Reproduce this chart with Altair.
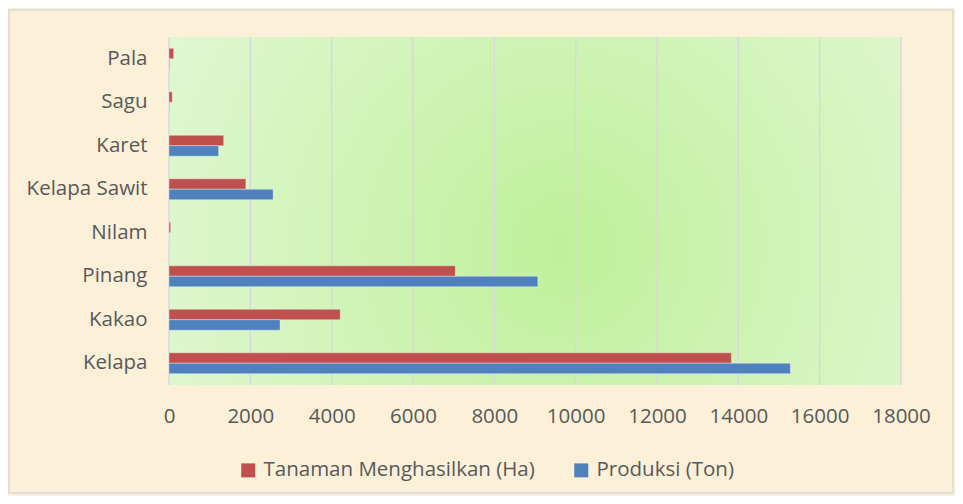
import altair as alt
import pandas as pd

categories = ["Pala", "Sagu", "Karet", "Kelapa Sawit", "Nilam", "Pinang", "Kakao", "Kelapa"]
tanaman_ha = [115, 80, 1345, 1890, 40, 7040, 4210, 13830]
produksi_ton = [15, 10, 1220, 2560, 5, 9070, 2730, 15280]
series = ["Tanaman Menghasilkan (Ha)", "Produksi (Ton)"]
x_ticks = [0, 2000, 4000, 6000, 8000, 10000, 12000, 14000, 16000, 18000]

rows = []
for c, a, b in zip(categories, tanaman_ha, produksi_ton):
    rows.append({"Kategori": c, "Seri": series[0], "Nilai": a})
    rows.append({"Kategori": c, "Seri": series[1], "Nilai": b})
df = pd.DataFrame(rows)
ticks_df = pd.DataFrame({"t": x_ticks})

W, H = 732, 348
FONT = "Open Sans"
FS = 20.5
TXT = "#595959"

xscale = alt.Scale(domain=[0, 18000], nice=False, zero=True)

frame = alt.Chart(alt.Data(values=[{}])).mark_rect(
    fill=None, stroke="#d9d9d9", strokeWidth=1.5
).encode(
    x=alt.value(-160), x2=alt.value(W + 52), y=alt.value(-27), y2=alt.value(H + 108)
)

bg = alt.Chart(alt.Data(values=[{}])).mark_rect(
    color=alt.RadialGradient(
        gradient="radial",
        x1=0.54, y1=0.55, r1=0.0,
        x2=0.54, y2=0.55, r2=0.75,
        stops=[
            alt.GradientStop(offset=0, color="#bff09a"),
            alt.GradientStop(offset=1, color="#e8f9e0"),
        ],
    )
).encode(x=alt.value(0), x2=alt.value(W), y=alt.value(0), y2=alt.value(H))

grid = alt.Chart(ticks_df).mark_rule(color="#d9d9d9", strokeWidth=1.5).encode(
    x=alt.X("t:Q", scale=xscale,
            axis=alt.Axis(values=x_ticks, format="d", grid=False, domain=False, ticks=False,
                          labelPadding=21, labelFontSize=FS, labelFont=FONT,
                          labelColor=TXT, title=None, labelFlush=False)),
    y=alt.value(0), y2=alt.value(H),
)

bars = alt.Chart(df).mark_bar(stroke="white", strokeOpacity=0.35, strokeWidth=1).encode(
    x=alt.X("Nilai:Q", scale=xscale),
    y=alt.Y("Kategori:N", sort=categories,
            scale=alt.Scale(paddingInner=0.52, paddingOuter=0.26),
            axis=alt.Axis(domain=False, ticks=False, labelPadding=22, labelFontSize=FS,
                          labelFont=FONT, labelColor=TXT, title=None, labelLimit=0)),
    yOffset=alt.YOffset("Seri:N", sort=series),
    color=alt.Color("Seri:N", sort=series,
                    scale=alt.Scale(domain=series, range=["#c0504d", "#4f81bd"]),
                    legend=alt.Legend(orient="none", legendX=69, legendY=423,
                                      direction="horizontal", title=None,
                                      symbolType="square", symbolSize=196,
                                      symbolStrokeWidth=0, labelFont=FONT,
                                      labelFontSize=FS, labelColor=TXT, labelLimit=0,
                                      columnPadding=36, labelOffset=5)),
)

chart = alt.layer(frame, bg, grid, bars).properties(
    width=W, height=H,
    padding={"left": 161, "top": 29, "right": 54, "bottom": 111},
    autosize=alt.AutoSizeParams(type="none"),
    background="#fcf0d8",
).configure_view(stroke=None)

chart.save("out.html", embed_options={"renderer": "svg", "actions": False})
